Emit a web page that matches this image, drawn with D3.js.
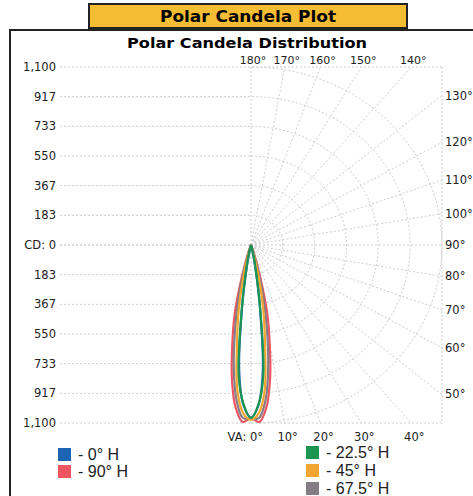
<!DOCTYPE html>
<html>
<head>
<meta charset="utf-8">
<script src="https://cdn.jsdelivr.net/npm/d3@7"></script>
<style>
  body { margin: 0; background: #fff; }
  svg { display: block; }
  .tick-label { font-family: "DejaVu Sans", sans-serif; font-size: 11.5px; fill: #222; }
  .legend-label { font-family: "Liberation Sans", Arial, sans-serif; font-size: 16px; fill: #222; }
</style>
</head>
<body>
<div id="chart"></div>
<script>
// Vertical angles (deg from nadir) and candela per horizontal plane
const vAngles = [0, 2.5, 5, 7.5, 10, 12.5, 15, 17.5, 20, 25, 30];
const cd0   = [1065, 990, 780, 400, 150, 40, 0, 0, 0, 0, 0];
const cd225 = [1070, 985, 810, 420, 165, 50, 5, 0, 0, 0, 0];
const cd45  = [1080, 1040, 900, 620, 410, 220, 70, 10, 0, 0, 0];
const cd675 = [1075, 1070, 960, 760, 530, 330, 150, 40, 0, 0, 0];
const cd90  = [1070, 1095, 1010, 840, 620, 430, 200, 60, 10, 0, 0];

const seriesNames = ["0° H", "90° H", "22.5° H", "45° H", "67.5° H"];
const seriesColors = ["#1e64b4", "#ee5561", "#1b9550", "#f2a531", "#857d86"];

const cdTicks = [0, 183, 367, 550, 733, 917, 1100];
const topAngles = [180, 170, 160, 150, 140];
const rightAngles = [130, 120, 110, 100, 90, 80, 70, 60, 50];
const bottomAngles = [0, 10, 20, 30, 40];

const width = 473, height = 496;
const maxCd = 1100;

const svg = d3.select("#chart").append("svg")
    .attr("width", width)
    .attr("height", height);

// Outer panel
svg.append("rect")
    .attr("x", 10).attr("y", 30)
    .attr("width", 490).attr("height", 490)
    .attr("fill", "#fff")
    .attr("stroke", "#222")
    .attr("stroke-width", 2);

// Gold title box
svg.append("rect")
    .attr("x", 89).attr("y", 4)
    .attr("width", 318).attr("height", 24)
    .attr("fill", "#f4bd33")
    .attr("stroke", "#222")
    .attr("stroke-width", 2);

svg.append("text")
    .attr("x", 248).attr("y", 22)
    .attr("text-anchor", "middle")
    .attr("textLength", 176)
    .attr("lengthAdjust", "spacingAndGlyphs")
    .style("font-family", "DejaVu Sans, sans-serif")
    .style("font-weight", "bold")
    .style("font-size", "15px")
    .text("Polar Candela Plot");

svg.append("text")
    .attr("x", 247).attr("y", 48)
    .attr("text-anchor", "middle")
    .attr("textLength", 240)
    .attr("lengthAdjust", "spacingAndGlyphs")
    .style("font-family", "DejaVu Sans, sans-serif")
    .style("font-weight", "bold")
    .style("font-size", "14px")
    .text("Polar Candela Distribution");

// Scales
const x = d3.scaleLinear().domain([-maxCd, maxCd]).range([60, 442]);
const y = d3.scaleLinear().domain([-maxCd, maxCd]).range([423, 67]);

// polar (deg from nadir, candela) -> screen
const px = (a, r) => x(r * Math.sin(a * Math.PI / 180));
const py = (a, r) => y(-r * Math.cos(a * Math.PI / 180));

const grid = svg.append("g")
    .attr("fill", "none")
    .attr("stroke", "#cdcdcd")
    .attr("stroke-width", 1)
    .attr("stroke-dasharray", "2,2");

// Horizontal lines on left half
cdTicks.forEach(v => {
    [v, -v].forEach(s => {
        grid.append("line")
            .attr("x1", x(-maxCd)).attr("x2", v === maxCd ? x(maxCd) : x(0))
            .attr("y1", y(s)).attr("y2", y(s));
    });
});
// Right border
grid.append("line")
    .attr("x1", x(maxCd)).attr("x2", x(maxCd))
    .attr("y1", y(maxCd)).attr("y2", y(-maxCd));

// Rings on right half
const ringLine = d3.line();
cdTicks.filter(v => v > 0).forEach(r => {
    const pts = d3.range(0, 181, 2).map(a => [px(a, r), py(a, r)]);
    grid.append("path").attr("d", ringLine(pts));
});

// Spokes out to the box edge
d3.range(0, 181, 10).forEach(a => {
    const s = Math.abs(Math.sin(a * Math.PI / 180));
    const c = Math.abs(Math.cos(a * Math.PI / 180));
    const t = maxCd / Math.max(s, c);
    grid.append("line")
        .attr("x1", x(0)).attr("y1", y(0))
        .attr("x2", px(a, t)).attr("y2", py(a, t));
});

// Left candela labels
const fmt = d3.format(",");
cdTicks.forEach(v => {
    [v, -v].forEach((s, i) => {
        if (v === 0 && i === 1) return;
        svg.append("text")
            .attr("class", "tick-label")
            .attr("x", 56).attr("y", y(s))
            .attr("dy", "0.35em")
            .attr("text-anchor", "end")
            .text(v === 0 ? "CD: 0" : fmt(v));
    });
});

// Angle labels
topAngles.forEach(a => {
    const dx = maxCd * Math.tan((180 - a) * Math.PI / 180);
    svg.append("text")
        .attr("class", "tick-label")
        .attr("x", x(dx) + 2).attr("y", 64)
        .attr("text-anchor", "middle")
        .style("font-size", "11px")
        .text(a + "°");
});
rightAngles.forEach(a => {
    const dy = maxCd * Math.tan((a - 90) * Math.PI / 180);
    svg.append("text")
        .attr("class", "tick-label")
        .attr("x", 445).attr("y", y(dy))
        .attr("dy", "0.35em")
        .attr("text-anchor", "start")
        .text(a + "°");
});
bottomAngles.forEach(a => {
    const dx = maxCd * Math.tan(a * Math.PI / 180);
    svg.append("text")
        .attr("class", "tick-label")
        .attr("x", a === 0 ? x(0) + 12 : x(dx) + 3).attr("y", 441)
        .attr("text-anchor", a === 0 ? "end" : "middle")
        .text(a === 0 ? "VA: 0°" : a + "°");
});

// Candela curves (mirrored about nadir)
const series = [
    { name: seriesNames[1], color: seriesColors[1], values: cd90 },
    { name: seriesNames[4], color: seriesColors[4], values: cd675 },
    { name: seriesNames[3], color: seriesColors[3], values: cd45 },
    { name: seriesNames[0], color: seriesColors[0], values: cd0 },
    { name: seriesNames[2], color: seriesColors[2], values: cd225 }
];

const curve = d3.line()
    .x(d => px(d.a, d.r))
    .y(d => py(d.a, d.r))
    .curve(d3.curveCatmullRom.alpha(0.5));

series.forEach(s => {
    const half = vAngles.map((a, i) => ({ a: a, r: s.values[i] }));
    const pts = half.slice(1).reverse().map(d => ({ a: -d.a, r: d.r })).concat(half);
    svg.append("path")
        .attr("d", curve(pts))
        .attr("fill", "none")
        .attr("stroke", s.color)
        .attr("stroke-width", 2.2)
        .attr("stroke-linejoin", "round");
});

// Legend
const legendItems = [
    { name: seriesNames[0], color: seriesColors[0], x: 58, y: 448 },
    { name: seriesNames[1], color: seriesColors[1], x: 58, y: 465 },
    { name: seriesNames[2], color: seriesColors[2], x: 306, y: 446 },
    { name: seriesNames[3], color: seriesColors[3], x: 306, y: 464 },
    { name: seriesNames[4], color: seriesColors[4], x: 306, y: 482 }
];

const legend = svg.selectAll(".legend")
    .data(legendItems)
    .enter().append("g")
    .attr("class", "legend")
    .attr("transform", d => `translate(${d.x}, ${d.y})`);

legend.append("rect")
    .attr("width", 13).attr("height", 13)
    .attr("fill", d => d.color);

legend.append("text")
    .attr("class", "legend-label")
    .attr("x", 20).attr("y", 12)
    .text(d => "- " + d.name);
</script>
</body>
</html>
